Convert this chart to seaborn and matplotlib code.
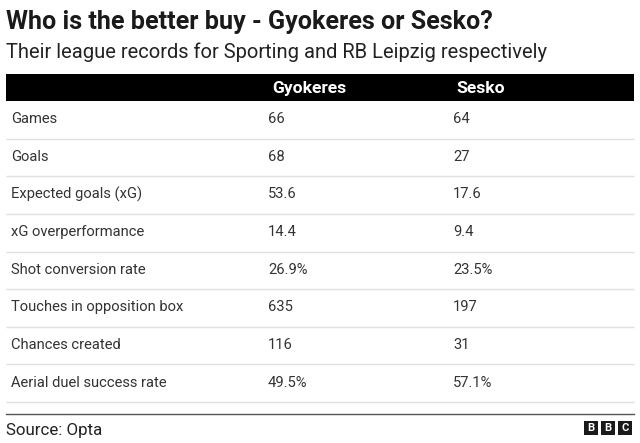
import numpy as np
import seaborn as sns
import matplotlib.pyplot as plt
from matplotlib.patches import Rectangle

plt.rcParams['font.family'] = ['Roboto', 'DejaVu Sans']

title = 'Who is the better buy - Gyokeres or Sesko?'
subtitle = 'Their league records for Sporting and RB Leipzig respectively'
source = 'Source: Opta'
players = ['Gyokeres', 'Sesko']
stats = ['Games', 'Goals', 'Expected goals (xG)', 'xG overperformance',
         'Shot conversion rate', 'Touches in opposition box',
         'Chances created', 'Aerial duel success rate']
gyokeres = ['66', '68', '53.6', '14.4', '26.9%', '635', '116', '49.5%']
sesko = ['64', '27', '17.6', '9.4', '23.5%', '197', '31', '57.1%']

W, H = 640, 443


def px_axes(x0, y0, x1, y1):
    # pixel box measured from the top left
    return fig.add_axes([x0 / W, 1 - y1 / H, (x1 - x0) / W, (y1 - y0) / H])


def px_text(x, y, s, **kw):
    fig.text(x / W, 1 - y / H, s, va='center', ha='left', **kw)


fig = plt.figure(figsize=(W / 100, H / 100), dpi=100, facecolor='white')

px_text(6, 22, title, fontsize=18.05, fontweight='bold', color='#1a1a1a')
px_text(6, 52, subtitle, fontsize=14.5, color='#222222')

# header band
head = px_axes(6, 74, 634, 101)
head.set_facecolor('black')
head.set_xlim(6, 634)
head.set_ylim(0, 1)
head.set_xticks([])
head.set_yticks([])
for s in head.spines.values():
    s.set_visible(False)
for name, x in zip(players, [272, 456]):
    head.text(x, 0.46, name, color='white', fontsize=12.6, fontweight='bold',
              ha='left', va='center')

# table body
ax = px_axes(6, 101, 634, 402)
sns.heatmap(np.zeros((len(stats), 1)), ax=ax, cmap=['white'], cbar=False,
            xticklabels=False, yticklabels=False)
ax.hlines(np.arange(1, len(stats) + 1), 0, 1, color='#e0e0e0', lw=1, clip_on=False)
trans = ax.get_yaxis_transform()
for i in range(len(stats)):
    y = i + 0.59
    ax.text(5 / 628, y, stats[i], transform=trans, fontsize=10.6,
            color='#333333', ha='left', va='baseline')
    ax.text(262 / 628, y, gyokeres[i], transform=trans, fontsize=10.6,
            color='#333333', ha='left', va='baseline')
    ax.text(447 / 628, y, sesko[i], transform=trans, fontsize=10.6,
            color='#333333', ha='left', va='baseline')

# footer
fig.add_artist(plt.Line2D([6 / W, 634 / W], [1 - 414 / H] * 2, color='#555555', lw=1))
px_text(6, 430, source, fontsize=12.2, color='#222222')
for x, letter in zip([584, 601, 618], 'BBC'):
    fig.add_artist(Rectangle((x / W, 1 - 435 / H), 14 / W, 14 / H, facecolor='#1a1a1a',
                             lw=0, transform=fig.transFigure))
    fig.text((x + 7) / W, 1 - 428 / H, letter, color='white', fontsize=8,
             fontweight='bold', ha='center', va='center')

fig.savefig('out.png', dpi=100)
